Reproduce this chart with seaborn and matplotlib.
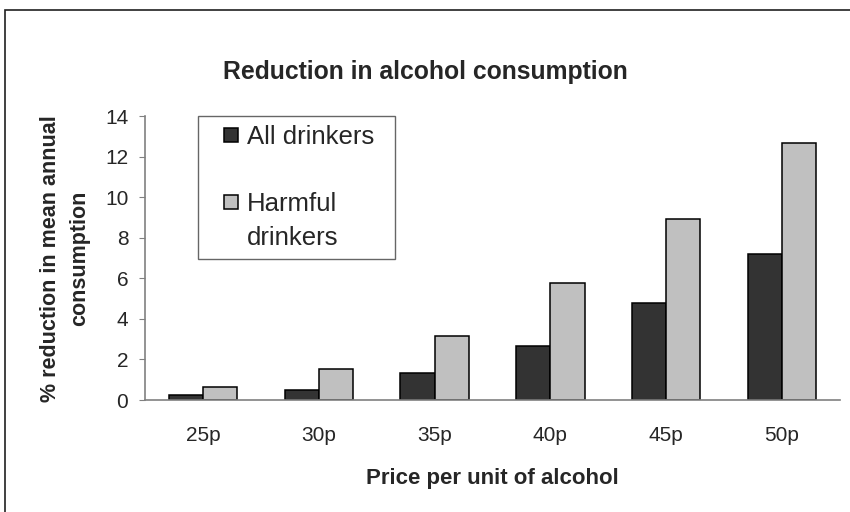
import numpy as np
import pandas as pd
import matplotlib
matplotlib.use("Agg")
import matplotlib.pyplot as plt
import matplotlib.patches as mpatches
from matplotlib.lines import Line2D
import seaborn as sns

# values
prices = ["25p", "30p", "35p", "40p", "45p", "50p"]
all_drinkers = [0.23, 0.51, 1.32, 2.69, 4.77, 7.23]
harmful_drinkers = [0.63, 1.52, 3.18, 5.76, 8.93, 12.69]
series_names = ["All drinkers", "Harmful drinkers"]
colors = ["#333333", "#c0c0c0"]
y_ticks = [0, 2, 4, 6, 8, 10, 12, 14]

df = pd.DataFrame({
    "Price": prices * 2,
    "Reduction": all_drinkers + harmful_drinkers,
    "Group": [series_names[0]] * len(prices) + [series_names[1]] * len(prices),
})

sns.set_style("white")
plt.rcParams["font.family"] = ["Liberation Sans", "DejaVu Sans"]

fig = plt.figure(figsize=(8.5, 5.12), dpi=100)
ax = fig.add_axes([0.1706, 0.21875, 0.8176, 0.5538])

sns.barplot(
    data=df, x="Price", y="Reduction", hue="Group",
    order=prices, hue_order=series_names,
    palette=colors, width=0.59,
    edgecolor="black", linewidth=1.1, ax=ax, legend=False,
)

ax.set_xlim(-0.5, len(prices) - 0.5)
ax.set_ylim(0, 14)
ax.set_yticks(y_ticks)
ax.set_yticklabels([str(t) for t in y_ticks], fontsize=15)
ax.set_xticks(range(len(prices)))
ax.set_xticklabels(prices, fontsize=15)
ax.set_xticks(np.arange(-0.5, len(prices), 1.0), minor=True)
ax.tick_params(axis="x", which="major", length=0, pad=18.5)
ax.tick_params(axis="x", which="minor", direction="in", length=5, color="#808080")
ax.tick_params(axis="y", direction="out", length=4, color="#808080", left=True, pad=8)

for side in ["top", "right"]:
    ax.spines[side].set_visible(False)
for side in ["left", "bottom"]:
    ax.spines[side].set_color("#808080")
    ax.spines[side].set_linewidth(1.2)

ax.set_xlabel("Price per unit of alcohol", fontsize=16, fontweight="bold", labelpad=17)
ax.set_ylabel("% reduction in mean annual\nconsumption", fontsize=15.5,
              fontweight="bold", labelpad=11, linespacing=1.5)
fig.text(0.5, 1 - 72 / 512, "Reduction in alcohol consumption", ha="center",
         va="center", fontsize=17.8, fontweight="bold")

# legend: "Harmful drinkers" wraps onto two lines, square sits by the first line
def square(c):
    return Line2D([], [], marker="s", linestyle="none", markersize=10.5,
                  markerfacecolor=c, markeredgecolor="black", markeredgewidth=1.1)

blank = Line2D([], [], linestyle="none")
leg_handles = [square(colors[0]), blank, square(colors[1]), blank]
leg_labels = ["All drinkers", " ", "Harmful", "drinkers"]
leg = ax.legend(
    leg_handles, leg_labels, loc="upper left",
    bbox_to_anchor=(0.076, 0.49, 0.284, 0.51), mode="expand",
    borderaxespad=0, fontsize=18.5, frameon=True, fancybox=False,
    handlelength=1.9, handletextpad=-0.35, labelspacing=0.37, borderpad=0.35,
)
leg.get_frame().set_edgecolor("#404040")
leg.get_frame().set_linewidth(1.0)

# outer chart border
border = mpatches.Rectangle((5 / 850, -0.02), 1.0, 0.9805 + 0.02,
                            transform=fig.transFigure, fill=False,
                            edgecolor="#202020", linewidth=1.2, clip_on=False)
fig.patches.append(border)

fig.savefig("out.png", dpi=100, facecolor="white")
